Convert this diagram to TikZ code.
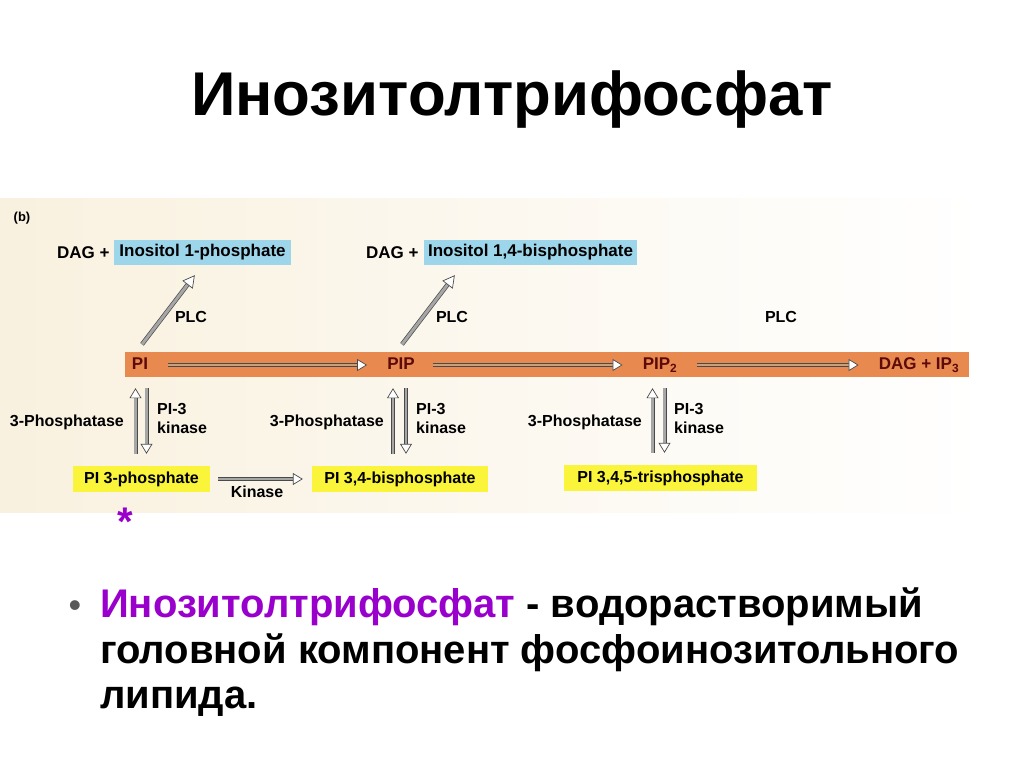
\documentclass[tikz,border=0pt]{standalone}
\usepackage{fontspec}
\setmainfont{Liberation Sans}
\usetikzlibrary{arrows.meta,positioning}
\definecolor{creambg}{HTML}{F9F1DF}
\definecolor{barorange}{HTML}{E8894F}
\definecolor{bartxt}{HTML}{5C0A0A}
\definecolor{boxblue}{HTML}{9DD6EA}
\definecolor{boxyellow}{HTML}{FAF43A}
\definecolor{titleviolet}{HTML}{9900CC}
\definecolor{arrowedge}{HTML}{4A4A4A}
\definecolor{arrowfill}{HTML}{A6A6A6}
\definecolor{barshaft}{HTML}{C9A07C}

\begin{document}
\begin{tikzpicture}[x=1pt, y=-1pt,
  lbl/.style={font=\bfseries\fontsize{16}{19}\selectfont, inner sep=0pt},
  toplbl/.style={font=\bfseries\fontsize{17}{20}\selectfont, inner sep=0pt},
  bluebox/.style={toplbl, fill=boxblue, minimum height=25pt},
  yellowbox/.style={lbl, fill=boxyellow, minimum height=26pt},
  barlbl/.style={font=\bfseries\fontsize{17}{20}\selectfont, text=bartxt, inner sep=0pt, text height=12pt, text depth=3pt},
  flow/.style={draw=arrowedge, double=arrowfill, double distance=2.6pt, line width=0.7pt,
    -{Triangle[open, length=10pt, width=12pt, fill=white]}},
  barflow/.style={flow, double=barshaft, double distance=2.2pt},
  plcflow/.style={flow, double distance=3pt, -{Triangle[open, length=12pt, width=13pt, fill=white]}},
  bullet/.style={font=\bfseries\fontsize{40}{46}\selectfont, anchor=base west, inner sep=0pt}]
  \useasboundingbox (0,0) rectangle (1024,768);

  % Title
  \node[font=\bfseries\fontsize{61.8}{70}\selectfont] (title) at (512,100) {Инозитолтрифосфат};

  % Scanned figure background
  \fill[left color=creambg, right color=white] (0,198) rectangle (985,512);
  \node[font=\bfseries\fontsize{13}{15}\selectfont, inner sep=0pt] (panel) at (22,218) {(b)};

  % Products of PLC
  \node[bluebox, minimum width=177pt] (ino1) at (202.5,252.5) {Inositol 1-phosphate};
  \node[toplbl, left=4pt of ino1] (dag1) {DAG +};
  \node[bluebox, minimum width=213pt] (ino2) at (530.5,252.5) {Inositol 1,4-bisphosphate};
  \node[toplbl, left=5pt of ino2] (dag2) {DAG +};

  % Main pathway bar
  \node[fill=barorange, minimum width=844pt, minimum height=25pt, inner sep=0pt] (bar) at (547,364.5) {};
  \node[barlbl] (pi) at (140,365) {PI};
  \node[barlbl] (pip) at (401,365) {PIP};
  \node[barlbl] (pip2) at (660,365) {PIP\textsubscript{2}};
  \node[barlbl] (dagip) at (919,365) {DAG + IP\textsubscript{3}};

  \draw[barflow, shorten <=20pt, shorten >=20pt] (pi) -- (pip);
  \draw[barflow, shorten <=18pt, shorten >=20pt] (pip) -- (pip2);
  \draw[barflow, shorten <=20pt, shorten >=20pt] (pip2) -- (dagip);

  \draw[plcflow] ([shift={(2,-13)}]pi.north) -- ([shift={(81,10)}]ino1.south west);
  \draw[plcflow] ([shift={(1,-13)}]pip.north) -- ([shift={(31,10)}]ino2.south west);
  \node[lbl] (plc1) at (191,317) {PLC};
  \node[lbl] (plc2) at (452,317) {PLC};
  \node[lbl] (plc3) at (781,317) {PLC};

  % 3-phosphorylated lipids
  \node[yellowbox, minimum width=137pt] (ps1) at (141.5,479) {PI 3-phosphate};
  \node[yellowbox, minimum width=176pt] (ps2) at (400,479) {PI 3,4-bisphosphate};
  \node[yellowbox, minimum width=193pt] (ps3) at (660.5,478) {PI 3,4,5-trisphosphate};

  \draw[flow, shorten <=12pt, shorten >=11pt] ([xshift=-6pt]ps1.north) -- ([xshift=-6pt]ps1.north |- bar.south);
  \draw[flow, shorten <=11pt, shorten >=12pt] ([xshift=5pt]ps1.north |- bar.south) -- ([xshift=5pt]ps1.north);
  \draw[flow, shorten <=12pt, shorten >=11pt] ([xshift=-7pt]ps2.north) -- ([xshift=-7pt]ps2.north |- bar.south);
  \draw[flow, shorten <=11pt, shorten >=12pt] ([xshift=6pt]ps2.north |- bar.south) -- ([xshift=6pt]ps2.north);
  \draw[flow, shorten <=12pt, shorten >=11pt] ([xshift=-8pt]ps3.north) -- ([xshift=-8pt]ps3.north |- bar.south);
  \draw[flow, shorten <=11pt, shorten >=12pt] ([xshift=4pt]ps3.north |- bar.south) -- ([xshift=4pt]ps3.north);

  \node[lbl, anchor=east] (ph1) at (124,422) {3-Phosphatase};
  \node[lbl, anchor=east] (ph2) at (384,422) {3-Phosphatase};
  \node[lbl, anchor=east] (ph3) at (642,422) {3-Phosphatase};
  \node[lbl, anchor=west, align=left] (k1) at (157,418) {PI-3\\kinase};
  \node[lbl, anchor=west, align=left] (k2) at (416,418) {PI-3\\kinase};
  \node[lbl, anchor=west, align=left] (k3) at (674,418) {PI-3\\kinase};

  \draw[flow, shorten <=8pt, shorten >=9pt] (ps1) -- (ps2) node[lbl, midway, below=7pt, xshift=-4pt] (kin) {Kinase};

  \node[font=\bfseries\fontsize{40}{40}\selectfont, text=titleviolet, inner sep=0pt] (star) at (125,522) {*};

  % Bullet text
  \node[font=\fontsize{36}{40}\selectfont, text=black!65, anchor=base] (dot) at (75,617) {•};
  \node[bullet] (line1) at (100,617) {\textcolor{titleviolet}{Инозитолтрифосфат} - водорастворимый};
  \node[bullet] (line2) at (100,663) {головной компонент фосфоинозитольного};
  \node[bullet] (line3) at (100,708) {липида.};
\end{tikzpicture}
\end{document}
